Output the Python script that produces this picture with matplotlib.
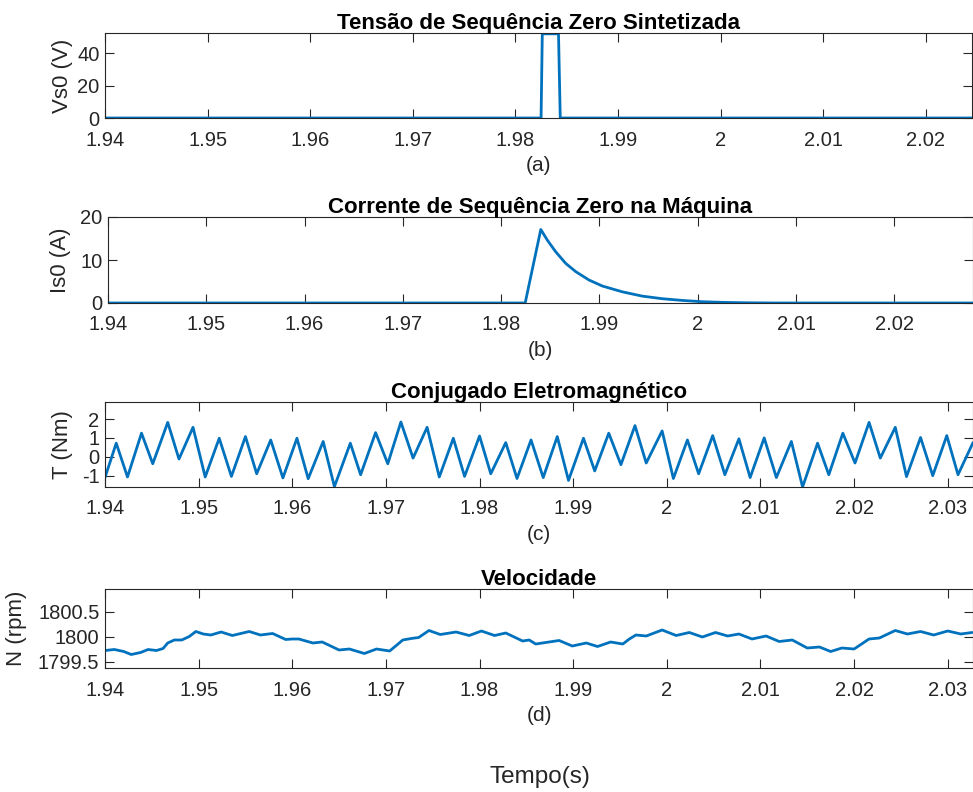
import matplotlib
matplotlib.use("Agg")
import matplotlib.pyplot as plt
import numpy as np

plt.rcParams['font.family'] = ['Liberation Sans', 'DejaVu Sans']

# (a) tensao de sequencia zero sintetizada
t_vs0 = [1.9400, 1.98250, 1.98262, 1.98420, 1.98437, 2.0250]
vs0 = [0, 0, 52, 52, 0, 0]

# (b) corrente de sequencia zero na maquina
t_is0 = [1.9400, 1.98244, 1.98403, 1.98470, 1.98555, 1.98657, 1.98758, 1.98893,
         1.99029, 1.99232, 1.99435, 1.99638, 1.99841, 2.00044, 2.00247, 2.0050,
         2.0080, 2.0280]
is0 = [0, 0, 17.1, 14.6, 11.9, 9.2, 7.3, 5.35,
       3.95, 2.6, 1.6, 1.0, 0.6, 0.3, 0.15, 0.05,
       0, 0]

# (c) conjugado eletromagnetico: picos e vales
t_pk = [1.9412, 1.9439, 1.9467, 1.9494, 1.9522, 1.9550, 1.9577, 1.9605, 1.9633,
        1.9662, 1.9689, 1.9716, 1.9744, 1.9772, 1.9800, 1.9828, 1.9855, 1.9883,
        1.9911, 1.9938, 1.9966, 1.9995, 2.0022, 2.0049, 2.0077, 2.0104, 2.0133,
        2.0161, 2.0188, 2.0216, 2.0244, 2.0271, 2.0299]
te_pk = [0.72, 1.25, 1.82, 1.56, 0.98, 1.07, 0.89, 0.98, 0.81,
         0.72, 1.28, 1.84, 1.56, 0.98, 1.10, 0.75, 0.89, 1.07,
         0.98, 1.25, 1.65, 1.37, 0.89, 1.12, 0.95, 1.00, 0.81,
         0.72, 1.25, 1.82, 1.56, 1.02, 1.12]
t_vl = [1.9424, 1.9451, 1.9479, 1.9507, 1.9535, 1.9562, 1.9590, 1.9617, 1.9645,
        1.9673, 1.9702, 1.9729, 1.9757, 1.9784, 1.9812, 1.9840, 1.9868, 1.9895,
        1.9923, 1.9951, 1.9978, 2.0007, 2.0034, 2.0062, 2.0089, 2.0117, 2.0145,
        2.0173, 2.0201, 2.0228, 2.0256, 2.0284, 2.0311]
te_vl = [-1.07, -0.37, -0.12, -1.07, -1.04, -0.90, -1.12, -1.16, -1.58,
         -0.95, -0.37, -0.07, -1.07, -1.04, -0.90, -1.15, -1.10, -1.25,
         -0.75, -0.42, -0.33, -1.15, -0.90, -0.95, -1.10, -1.10, -1.60,
         -0.95, -0.33, -0.07, -1.05, -1.00, -0.95]
t_te_ends = [1.9400, 2.0327]
te_ends = [-1.10, 0.75]

# (d) velocidade
t_n = [1.9400, 1.9410, 1.9420, 1.9428, 1.9438, 1.9446, 1.9455, 1.9462,
       1.9467, 1.9474, 1.9482, 1.9490, 1.9497, 1.9505, 1.9513, 1.9524,
       1.9536, 1.9554, 1.9566, 1.9579, 1.9593, 1.9600, 1.9607, 1.9622,
       1.9632, 1.9650, 1.9661, 1.9677, 1.9690, 1.9704, 1.9713, 1.9718,
       1.9727, 1.9735, 1.9746, 1.9758, 1.9775, 1.9789, 1.9802, 1.9816,
       1.9828, 1.9846, 1.9853, 1.9860, 1.9885, 1.9899, 1.9914, 1.9926,
       1.9940, 1.9953, 1.9960, 1.9967, 1.9978, 1.9995, 2.0010, 2.0024,
       2.0038, 2.0052, 2.0065, 2.0077, 2.0091, 2.0106, 2.0120, 2.0134,
       2.0150, 2.0163, 2.0175, 2.0187, 2.0200, 2.0208, 2.0216, 2.0227,
       2.0244, 2.0257, 2.0271, 2.0285, 2.0300, 2.0314, 2.0326]
n_rpm = [1799.72, 1799.74, 1799.70, 1799.64, 1799.68, 1799.74, 1799.72, 1799.76,
         1799.87, 1799.93, 1799.93, 1800.00, 1800.10, 1800.05, 1800.03, 1800.09,
         1800.02, 1800.10, 1800.03, 1800.06, 1799.94, 1799.95, 1799.95, 1799.87,
         1799.89, 1799.73, 1799.75, 1799.66, 1799.75, 1799.71, 1799.85, 1799.93,
         1799.96, 1799.98, 1800.12, 1800.04, 1800.09, 1800.02, 1800.11, 1800.02,
         1800.07, 1799.91, 1799.93, 1799.85, 1799.92, 1799.81, 1799.87, 1799.80,
         1799.89, 1799.85, 1799.95, 1800.03, 1800.01, 1800.13, 1800.02, 1800.08,
         1799.99, 1800.08, 1800.01, 1800.05, 1799.95, 1800.01, 1799.90, 1799.93,
         1799.77, 1799.79, 1799.70, 1799.77, 1799.75, 1799.85, 1799.95, 1799.97,
         1800.12, 1800.05, 1800.10, 1800.03, 1800.11, 1800.05, 1800.08]

ticks_ab = [1.94, 1.95, 1.96, 1.97, 1.98, 1.99, 2.00, 2.01, 2.02]
ticks_cd = ticks_ab + [2.03]

# junta picos e vales do conjugado em ordem de tempo
t_te = np.concatenate([t_te_ends, t_pk, t_vl])
te = np.concatenate([te_ends, te_pk, te_vl])
order = np.argsort(t_te)
t_te, te = t_te[order], te[order]

W, H = 973, 792
blue = '#0072BD'
dark = '#262626'


def px_axes(fig, left, right, top, bottom):
    return fig.add_axes([left / W, 1 - bottom / H, (right - left) / W, (bottom - top) / H])


def style(ax, xticks, xlim, ylim, yticks, title, ylabel, sub, ylab_x):
    ax.set_xlim(*xlim)
    ax.set_ylim(*ylim)
    ax.set_xticks(xticks)
    ax.set_xticklabels(['2' if abs(v - 2) < 1e-9 else f'{v:g}' for v in xticks])
    ax.set_yticks(yticks)
    ax.set_yticklabels([f'{v:g}' for v in yticks])
    ax.tick_params(direction='in', top=True, right=True, length=6.5, width=0.8,
                   colors=dark, labelsize=14.5)
    ax.tick_params(axis='x', pad=9)
    ax.tick_params(axis='y', pad=4)
    for s in ax.spines.values():
        s.set_color(dark)
        s.set_linewidth(0.8)
    ax.set_title(title, fontsize=16, fontweight='bold', pad=3)
    ax.set_xlabel(sub, fontsize=15, color=dark, labelpad=5)
    ax.set_ylabel(ylabel, fontsize=16, color=dark)
    ax.yaxis.set_label_coords(ylab_x, 0.5)


def trace(ax, x, y):
    ax.plot(x, y, color=blue, lw=2, solid_joinstyle='round', solid_capstyle='round')


fig = plt.figure(figsize=(W / 100, H / 100), dpi=100)

ax1 = px_axes(fig, 105, 972, 33, 118)
trace(ax1, t_vs0, vs0)
style(ax1, ticks_ab, (1.94, 2.0245), (0, 52.5), [0, 20, 40],
      'Tensão de Sequência Zero Sintetizada', 'Vs0 (V)', '(a)', -0.037)

ax2 = px_axes(fig, 108, 973, 217, 303)
trace(ax2, t_is0, is0)
style(ax2, ticks_ab, (1.94, 2.028), (0, 20), [0, 10, 20],
      'Corrente de Sequência Zero na Máquina', 'Is0 (A)', '(b)', -0.043)

ax3 = px_axes(fig, 105, 973, 402, 487)
trace(ax3, t_te, te)
style(ax3, ticks_cd, (1.94, 2.0327), (-1.6, 2.9), [-1, 0, 1, 2],
      'Conjugado Eletromagnético', 'T (Nm)', '(c)', -0.037)

ax4 = px_axes(fig, 105, 973, 589, 668)
trace(ax4, t_n, n_rpm)
style(ax4, ticks_cd, (1.94, 2.0327), (1799.37, 1800.95), [1799.5, 1800, 1800.5],
      'Velocidade', 'N (rpm)', '(d)', -0.09)

fig.text(540 / W, 1 - 777 / H, 'Tempo(s)', ha='center', va='center', fontsize=17.5, color=dark)

fig.savefig('out.png', dpi=100)
